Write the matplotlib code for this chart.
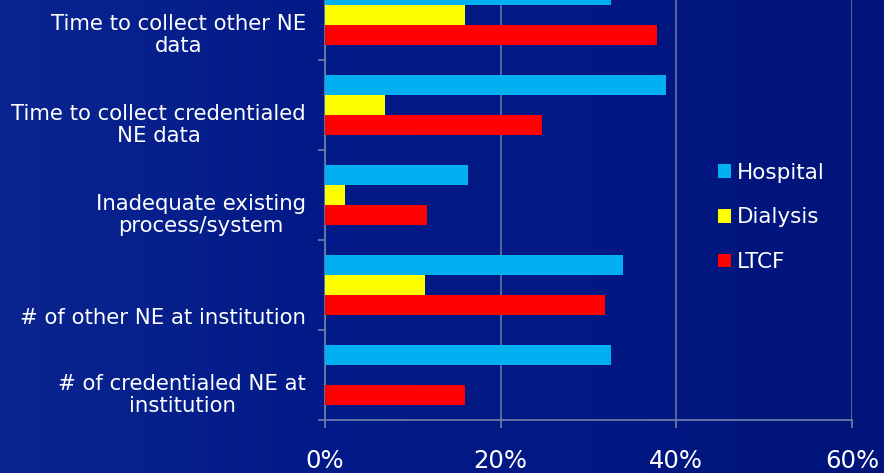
import numpy as np
import matplotlib
matplotlib.use("Agg")
import matplotlib.pyplot as plt
from matplotlib.colors import LinearSegmentedColormap

# categories listed top to bottom
categories = ["Time to collect other NE\ndata",
              "Time to collect credentialed\nNE data",
              "Inadequate existing\nprocess/system",
              "# of other NE at institution",
              "# of credentialed NE at\ninstitution"]
hospital = [32.6, 38.8, 16.3, 33.9, 32.6]
dialysis = [15.9, 6.8, 2.3, 11.4, 0.0]
ltcf = [37.8, 24.7, 11.6, 31.9, 15.9]
series_names = ["Hospital", "Dialysis", "LTCF"]
series_colors = ["#00b0f0", "#ffff00", "#ff0000"]
xticks = [0, 20, 40, 60]

fig = plt.figure(figsize=(8.84, 4.73), dpi=100)

# blue gradient background
bg = fig.add_axes([0, 0, 1, 1], zorder=-10)
cmap = LinearSegmentedColormap.from_list("bg", ["#0a2590", "#031b88", "#021883", "#011479"])
grad = np.linspace(0, 1, 256).reshape(1, -1)
bg.imshow(grad, aspect="auto", cmap=cmap, extent=[0, 1, 0, 1])
bg.axis("off")

ax = fig.add_axes([0.3676, 0.1121, 0.5962, 0.9514])
ax.set_facecolor("none")

y = np.arange(len(categories))
h = 0.222
for vals, off, name, col in zip([hospital, dialysis, ltcf], [-h, 0, h], series_names, series_colors):
    ax.barh(y + off, vals, height=h, color=col, label=name, zorder=3)

ax.set_xlim(0, 60)
ax.set_ylim(len(categories) - 0.5, -0.5)
ax.set_xticks(xticks)
ax.set_xticklabels([f"{t}%" for t in xticks], color="white", fontsize=17.5)
ax.set_yticks(np.arange(len(categories)) + 0.5)
ax.set_yticklabels([])
ax.tick_params(axis="x", length=6, width=1.2, color="#7080aa", pad=15)
ax.tick_params(axis="y", length=5, width=1.2, color="#7080aa")
ax.grid(axis="x", color="#6575a5", linewidth=1.2, zorder=0)
for s in ["top", "right"]:
    ax.spines[s].set_visible(False)
for s in ["left", "bottom"]:
    ax.spines[s].set_color("#7080aa")
    ax.spines[s].set_linewidth(1.2)

# category labels, placed a bit below the group centre like the original
label_off = [0.22, 0.22, 0.22, 0.37, 0.22]
for i, (lab, d) in enumerate(zip(categories, label_off)):
    ax.text(-0.036, i + d, lab, transform=ax.get_yaxis_transform(), ha="right", va="center",
            multialignment="center", color="white", fontsize=15.3, linespacing=1.15)

leg = fig.legend(loc="upper left", bbox_to_anchor=(0.79, 0.697), frameon=False,
                 fontsize=15.5, handlelength=0.6, handleheight=0.6, handletextpad=0.3,
                 labelspacing=1.15)
for t in leg.get_texts():
    t.set_color("white")

fig.savefig("out.png", dpi=100, facecolor="#021883")
